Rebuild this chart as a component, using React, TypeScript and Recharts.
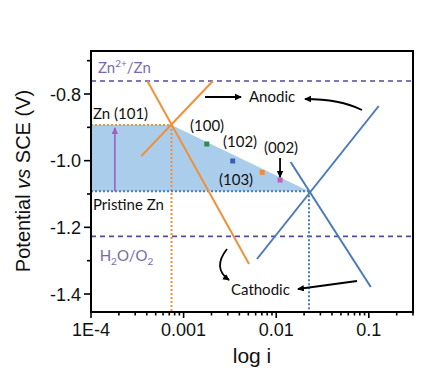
import React from "react";
import {
  ComposedChart,
  Line,
  Area,
  Scatter,
  Cell,
  XAxis,
  YAxis,
  ReferenceLine,
} from "recharts";

// ---------- data ----------
const xMajorTicks = [0.0001, 0.001, 0.01, 0.1];
const xMajorLabels = ["1E-4", "0.001", "0.01", "0.1"];
const xMinorTicks = [
  0.0002, 0.0003, 0.0004, 0.0005, 0.0006, 0.0007, 0.0008, 0.0009,
  0.002, 0.003, 0.004, 0.005, 0.006, 0.007, 0.008, 0.009,
  0.02, 0.03, 0.04, 0.05, 0.06, 0.07, 0.08, 0.09,
  0.2, 0.3,
];
const yMajorTicks = [-1.4, -1.2, -1.0, -0.8];
const yMinorTicks = [-1.3, -1.1, -0.9, -0.7];

const zn101AnodicX = [0.00035, 0.00207];
const zn101AnodicY = [-0.986, -0.761];
const zn101CathodicX = [0.000406, 0.00509];
const zn101CathodicY = [-0.761, -1.31];
const pristineAnodicX = [0.0062, 0.128];
const pristineAnodicY = [-1.295, -0.836];
const pristineCathodicX = [0.0143, 0.105];
const pristineCathodicY = [-1.004, -1.379];

const ecorrZn101 = { x: 0.00074, y: -0.893 };
const ecorrPristine = { x: 0.0226, y: -1.092 };

const equilibriumZn = -0.761;
const equilibriumWater = -1.227;

const facetLabels = ["(100)", "(102)", "(103)", "(002)"];
const facetX = [0.00178, 0.00339, 0.00705, 0.011];
const facetY = [-0.95, -1.001, -1.035, -1.058];
const facetColors = ["#2e8b4e", "#3a5fae", "#f08a34", "#c35bbf"];

const X_MIN = 0.0001;
const X_MAX = 0.3;
const Y_MIN = -1.454;
const Y_MAX = -0.671;

// ---------- helpers ----------
const zip = (xs: number[], ys: number[]) => xs.map((x, i) => ({ x, y: ys[i] }));

const fillData = [
  { x: X_MIN, y: ecorrZn101.y },
  { x: ecorrZn101.x, y: ecorrZn101.y },
  { x: ecorrPristine.x, y: ecorrPristine.y },
];
const facetData = zip(facetX, facetY);

const W = 437;
const H = 371;
const M = { top: 51, right: 24, left: 0, bottom: 0 };
const Y_AXIS_W = 91;
const X_AXIS_H = 59;
const plotLeft = M.left + Y_AXIS_W;
const plotTop = M.top;
const plotRight = W - M.right;
const plotBottom = H - M.bottom - X_AXIS_H;

const px = (v: number) =>
  plotLeft +
  ((Math.log10(v) - Math.log10(X_MIN)) / (Math.log10(X_MAX) - Math.log10(X_MIN))) *
    (plotRight - plotLeft);
const py = (v: number) =>
  plotTop + ((Y_MAX - v) / (Y_MAX - Y_MIN)) * (plotBottom - plotTop);

const ORANGE = "#f0913a";
const BLUE = "#4a7bb7";
const PURPLE_LINE = "#544b9c";
const PURPLE_TEXT = "#7b6aab";
const FILL = "#a9cdeb";
const ANN_FONT = "Lato, 'Open Sans', sans-serif";
const AX_FONT = "'Liberation Sans', Arial, sans-serif";

const XTick = (props: any) => {
  const { x, y, payload } = props;
  const idx = xMajorTicks.findIndex((t) => Math.abs(t - payload.value) < 1e-12);
  const major = idx >= 0;
  return (
    <g>
      <line x1={x} x2={x} y1={y} y2={y + (major ? 6 : 3.5)} stroke="#000" strokeWidth={1.6} />
      {major && (
        <text x={x} y={y + 24} textAnchor="middle" fontSize={18} fontFamily={AX_FONT} fill="#111">
          {xMajorLabels[idx]}
        </text>
      )}
    </g>
  );
};

const YTick = (props: any) => {
  const { x, y, payload } = props;
  const major = yMajorTicks.some((t) => Math.abs(t - payload.value) < 1e-9);
  return (
    <g>
      <line x1={x} x2={x - (major ? 7 : 4)} y1={y} y2={y} stroke="#000" strokeWidth={1.6} />
      {major && (
        <text x={x - 10} y={y + 6.5} textAnchor="end" fontSize={18} fontFamily={AX_FONT} fill="#111">
          {payload.value.toFixed(1)}
        </text>
      )}
    </g>
  );
};

const Square = (props: any) => {
  const { cx, cy, fill } = props;
  return <rect x={cx - 2.5} y={cy - 2.5} width={5} height={5} fill={fill} />;
};

const Arrow = ({ d, color = "#000", w = 1.8 }: { d: string; color?: string; w?: number }) => (
  <path d={d} stroke={color} strokeWidth={w} fill="none" markerEnd={`url(#head-${color.replace("#", "")})`} />
);

export default function App() {
  const allXTicks = [...xMajorTicks, ...xMinorTicks].sort((a, b) => a - b);
  const allYTicks = [...yMajorTicks, ...yMinorTicks].sort((a, b) => a - b);

  return (
    <div style={{ position: "absolute", left: 0, top: 0, width: W, height: H, background: "#fff" }}>
      <ComposedChart width={W} height={H} margin={M}>
        <XAxis
          dataKey="x"
          type="number"
          scale="log"
          domain={[X_MIN, X_MAX]}
          allowDataOverflow
          ticks={allXTicks}
          interval={0}
          tick={<XTick />}
          tickLine={false}
          tickSize={0}
          tickMargin={0}
          height={X_AXIS_H}
          axisLine={{ stroke: "#000", strokeWidth: 2 }}
        />
        <YAxis
          type="number"
          domain={[Y_MIN, Y_MAX]}
          allowDataOverflow
          ticks={allYTicks}
          interval={0}
          tick={<YTick />}
          tickLine={false}
          tickSize={0}
          tickMargin={0}
          width={Y_AXIS_W}
          axisLine={{ stroke: "#000", strokeWidth: 2 }}
        />
        <Area
          data={fillData}
          dataKey="y"
          type="linear"
          baseValue={ecorrPristine.y}
          stroke="none"
          fill={FILL}
          fillOpacity={1}
          isAnimationActive={false}
          dot={false}
          activeDot={false}
        />
        <ReferenceLine y={equilibriumZn} stroke={PURPLE_LINE} strokeWidth={1.6} strokeDasharray="5 4" />
        <ReferenceLine y={equilibriumWater} stroke={PURPLE_LINE} strokeWidth={1.6} strokeDasharray="5 4" />
        <Line
          data={[{ x: X_MIN, y: ecorrZn101.y }, ecorrZn101]}
          dataKey="y"
          type="linear"
          stroke={ORANGE}
          strokeWidth={2}
          strokeDasharray="2 2"
          dot={false}
          activeDot={false}
          isAnimationActive={false}
        />
        <Line
          data={[ecorrZn101, { x: ecorrZn101.x, y: Y_MIN }]}
          dataKey="y"
          type="linear"
          stroke={ORANGE}
          strokeWidth={2}
          strokeDasharray="2 2"
          dot={false}
          activeDot={false}
          isAnimationActive={false}
        />
        <Line
          data={[{ x: X_MIN, y: ecorrPristine.y }, ecorrPristine]}
          dataKey="y"
          type="linear"
          stroke={BLUE}
          strokeWidth={2}
          strokeDasharray="2 2"
          dot={false}
          activeDot={false}
          isAnimationActive={false}
        />
        <Line
          data={[ecorrPristine, { x: ecorrPristine.x, y: Y_MIN }]}
          dataKey="y"
          type="linear"
          stroke={BLUE}
          strokeWidth={2}
          strokeDasharray="2 2"
          dot={false}
          activeDot={false}
          isAnimationActive={false}
        />
        <Line data={zip(zn101AnodicX, zn101AnodicY)} dataKey="y" type="linear" stroke={ORANGE} strokeWidth={2} dot={false} activeDot={false} isAnimationActive={false} />
        <Line data={zip(zn101CathodicX, zn101CathodicY)} dataKey="y" type="linear" stroke={ORANGE} strokeWidth={2} dot={false} activeDot={false} isAnimationActive={false} />
        <Line data={zip(pristineAnodicX, pristineAnodicY)} dataKey="y" type="linear" stroke={BLUE} strokeWidth={2} dot={false} activeDot={false} isAnimationActive={false} />
        <Line data={zip(pristineCathodicX, pristineCathodicY)} dataKey="y" type="linear" stroke={BLUE} strokeWidth={2} dot={false} activeDot={false} isAnimationActive={false} />
        <Scatter data={facetData} dataKey="y" shape={<Square />} isAnimationActive={false}>
          {facetData.map((_, i) => (
            <Cell key={i} fill={facetColors[i]} />
          ))}
        </Scatter>
      </ComposedChart>

      <svg
        width={W}
        height={H}
        style={{ position: "absolute", left: 0, top: 0, pointerEvents: "none", overflow: "visible" }}
      >
        <defs>
          {["000", "a15fc2"].map((c) => (
            <marker
              key={c}
              id={`head-${c}`}
              markerWidth="8"
              markerHeight="8"
              refX="6"
              refY="4"
              orient="auto"
              markerUnits="userSpaceOnUse"
            >
              <path d="M0,0.8 L7,4 L0,7.2 Z" fill={`#${c}`} />
            </marker>
          ))}
        </defs>
        {/* frame */}
        <rect
          x={plotLeft}
          y={plotTop}
          width={plotRight - plotLeft}
          height={plotBottom - plotTop}
          fill="none"
          stroke="#000"
          strokeWidth={2}
        />

        {/* equilibrium labels */}
        <text x={px(0.000119)} y={py(equilibriumZn) - 8} fontSize={15} fontFamily={ANN_FONT} fill={PURPLE_TEXT}>
          Zn<tspan dy={-6} fontSize={10}>2+</tspan>
          <tspan dy={6}>/Zn</tspan>
        </text>
        <text x={px(0.000124)} y={py(equilibriumWater) + 25} fontSize={15} fontFamily={ANN_FONT} fill={PURPLE_TEXT}>
          H<tspan dy={4} fontSize={10}>2</tspan>
          <tspan dy={-4}>O/O</tspan>
          <tspan dy={4} fontSize={10}>2</tspan>
        </text>

        {/* Ecorr labels */}
        <text x={px(0.000105)} y={py(ecorrZn101.y) - 6} fontSize={15} fontFamily={ANN_FONT} fill="#111">
          Zn (101)
        </text>
        <text x={px(0.000105)} y={py(ecorrPristine.y) + 19} fontSize={15} fontFamily={ANN_FONT} fill="#111">
          Pristine Zn
        </text>

        {/* purple vertical arrow */}
        <Arrow
          d={`M${px(0.000181)},${py(ecorrPristine.y)} L${px(0.000181)},${py(ecorrZn101.y) + 3}`}
          color="#a15fc2"
          w={1.6}
        />

        {/* facet labels */}
        <text x={190} y={131} fontSize={15} fontFamily={ANN_FONT} fill="#111">{facetLabels[0]}</text>
        <text x={223} y={147} fontSize={15} fontFamily={ANN_FONT} fill="#111">{facetLabels[1]}</text>
        <text x={219} y={185} fontSize={15} fontFamily={ANN_FONT} fill="#111">{facetLabels[2]}</text>
        <text x={264} y={153} fontSize={15} fontFamily={ANN_FONT} fill="#111">{facetLabels[3]}</text>
        <Arrow d={`M${px(facetX[3])},158 L${px(facetX[3])},${py(facetY[3]) - 3}`} />

        {/* anodic / cathodic */}
        <text x={249} y={102} fontSize={15} fontFamily={ANN_FONT} fill="#111">Anodic</text>
        <Arrow d="M205,97 L241,97" />
        <Arrow d="M362,110 Q340,99 305,99" />
        <text x={231} y={295} fontSize={15} fontFamily={ANN_FONT} fill="#111">Cathodic</text>
        <Arrow d="M357,281 L298,289" />
        <Arrow d="M227,249 Q212,268 229,280" />

        {/* axis titles */}
        <text
          transform={`translate(30, 181) rotate(-90)`}
          textAnchor="middle"
          fontSize={20}
          fontFamily={AX_FONT}
          fill="#111"
        >
          Potential <tspan fontStyle="italic">vs</tspan> SCE (V)
        </text>
        <text x={252} y={363} textAnchor="middle" fontSize={21} fontFamily={AX_FONT} fill="#111">
          log i
        </text>
      </svg>
    </div>
  );
}
